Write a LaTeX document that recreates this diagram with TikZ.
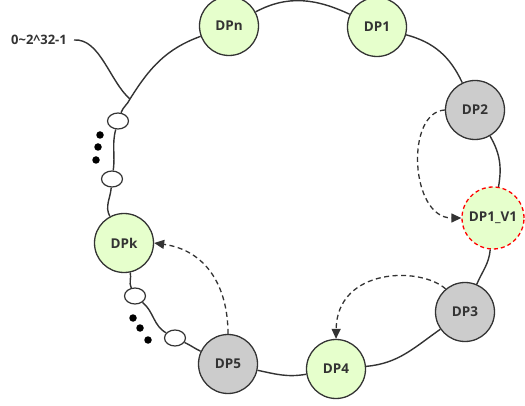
\documentclass[tikz,border=0pt]{standalone}
\usepackage{fontspec}
\setmainfont{Open Sans}
\usetikzlibrary{arrows.meta,shapes.geometric}
\definecolor{ringc}{HTML}{333333}
\definecolor{greenf}{HTML}{E6FFCC}
\definecolor{grayf}{HTML}{CCCCCC}
\definecolor{txtc}{HTML}{333333}
\tikzset{
  dpnode/.style={circle,draw=ringc,line width=1.3pt,minimum size=59pt,inner sep=0pt,
    font=\fontsize{13.5}{15}\selectfont\bfseries,text=txtc},
  greennode/.style={dpnode,fill=greenf},
  graynode/.style={dpnode,fill=grayf},
  newnode/.style={dpnode,fill=greenf,draw=red,dashed,dash pattern=on 4pt off 3pt,minimum size=62pt},
  slot/.style={ellipse,draw=ringc,line width=1.2pt,fill=white,minimum width=21pt,minimum height=16pt,inner sep=0pt},
  blackdot/.style={circle,fill=black,inner sep=0pt,minimum size=7.5pt},
  ring/.style={draw=ringc,line width=1.4pt},
  moveline/.style={draw=ringc,line width=1.3pt,dash pattern=on 5pt off 3.5pt,-{Triangle[length=10pt,width=9pt]}},
}
\begin{document}
\begin{tikzpicture}[x=1pt,y=-1pt]
\useasboundingbox (0,0) rectangle (525,406);
% nodes
\node[greennode] (dpn) at (229,26) {DPn};
\node[greennode] (dp1) at (377,27) {DP1};
\node[graynode] (dp2) at (475,110) {DP2};
\node[newnode] (dp1v1) at (493,218) {DP1\_V1};
\node[graynode] (dp3) at (465,312) {DP3};
\node[greennode] (dp4) at (336,369) {DP4};
\node[graynode] (dp5) at (228,364) {DP5};
\node[greennode] (dpk) at (124,243) {DPk};
\node[slot] (e1) at (118,121) {};
\node[slot] (e2) at (112,179) {};
\node[slot] (e3) at (135,296) {};
\node[slot] (e4) at (175,338) {};
\coordinate (p) at (130,99);
\coordinate (lblend) at (74,40);
\node[font=\fontsize{13}{15}\selectfont\bfseries,text=txtc,inner sep=0pt,anchor=east] (lbl) at (67,40) {0\textasciitilde 2\textasciicircum 32-1};
% dots
\node[blackdot] (d1) at (100,135) {};
\node[blackdot] (d2) at (98,147) {};
\node[blackdot] (d3) at (96,160) {};
\node[blackdot] (d4) at (133,318) {};
\node[blackdot] (d5) at (140,328) {};
\node[blackdot] (d6) at (148,340) {};
% ring
\draw[ring] (dpn) to[out=28,in=155] (dp1);
\draw[ring] (dp1) to[out=-15,in=115] (dp2);
\draw[ring] (dp2) to[out=-60,in=80] (dp1v1);
\draw[ring] (dp1v1) to[out=-95,in=67] (dp3);
\draw[ring] (dp3) to[out=215,in=5] (dp4);
\draw[ring] (dp4) to[out=190,in=-12] (dp5);
\draw[ring] (dp5) to[out=155,in=-25] (e4);
\draw[ring] (e4) to[out=150,in=-40] (e3);
\draw[ring] (e3) to[out=115,in=-78] (dpk);
\draw[ring] (dpk) to[out=118,in=-95] (e2);
\draw[ring] (e2) to[out=82,in=-105] (e1);
\draw[ring] (e1) to[out=70,in=245] (p);
\draw[ring] (p) to[out=58,in=200] (dpn);
\draw[ring] (lblend) .. controls (100,38) and (110,82) .. (p);
% moves
\draw[moveline] (dp2.west) .. controls (405,112) and (410,218) .. (dp1v1.west);
\draw[moveline] (dp3.130) .. controls (420,266) and (337,268) .. (dp4.north);
\draw[moveline] (dp5.north) .. controls (228,285) and (205,250) .. (dpk.east);
\end{tikzpicture}
\end{document}
